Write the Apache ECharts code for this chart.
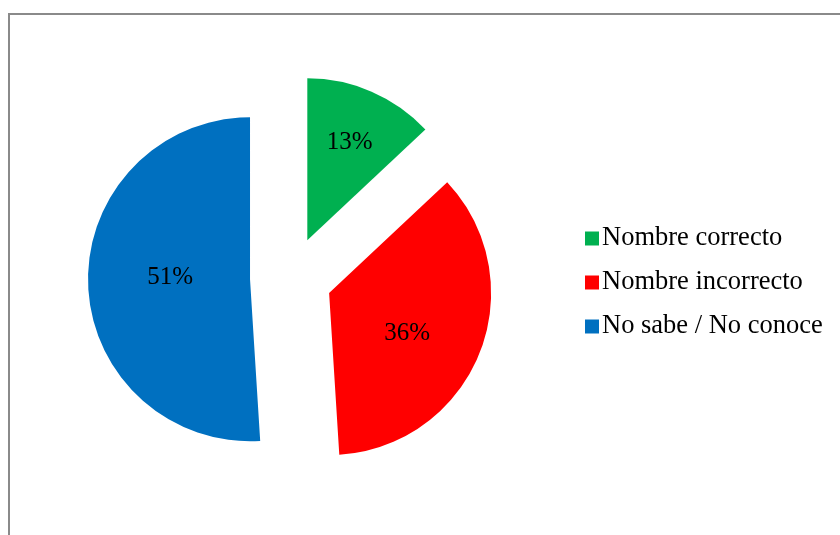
<!DOCTYPE html>
<html>
<head>
<meta charset="utf-8">
<script src="https://cdn.jsdelivr.net/npm/echarts@6/dist/echarts.min.js"></script>
<style>
  html, body { margin: 0; padding: 0; background: #ffffff; }
  #chart { width: 840px; height: 535px; }
</style>
</head>
<body>
<div id="chart"></div>
<script>
// Respuestas sobre el nombre (porcentajes)
const categories = ['Nombre correcto', 'Nombre incorrecto', 'No sabe / No conoce'];
const values = [13, 36, 51];
const colors = ['#00B050', '#FF0000', '#0070C0'];
// desplazamiento fino de cada etiqueta dentro de su porción
const labelShifts = [[9, -21], [0, 9], [4, -4]];

const chart = echarts.init(document.getElementById('chart'), null, { renderer: 'canvas' });

const data = categories.map((name, i) => ({
  name: name,
  value: values[i],
  selected: true,
  itemStyle: { color: colors[i] }
}));

chart.setOption({
  animation: false,
  backgroundColor: '#ffffff',
  graphic: [{
    type: 'rect',
    shape: { x: 9, y: 14, width: 900, height: 600 },
    style: { fill: 'none', stroke: '#8a8a8a', lineWidth: 2 },
    silent: true
  }],
  legend: {
    orient: 'vertical',
    left: 580,
    top: 220,
    itemWidth: 14,
    itemHeight: 14,
    itemGap: 17,
    icon: 'rect',
    selectedMode: false,
    textStyle: {
      fontFamily: 'Liberation Serif',
      fontSize: 26.5,
      color: '#000000',
      padding: [4, 0, 0, -2]
    },
    data: categories
  },
  series: [{
    type: 'pie',
    center: [291, 278],
    radius: [0, 162],
    startAngle: 90,
    clockwise: true,
    selectedMode: 'multiple',
    selectedOffset: 41,
    avoidLabelOverlap: false,
    label: {
      show: true,
      position: 'inside',
      formatter: '{d}%',
      fontFamily: 'Liberation Serif',
      fontSize: 25,
      color: '#000000'
    },
    labelLayout: function (params) {
      const s = labelShifts[params.dataIndex];
      return { dx: s[0], dy: s[1] };
    },
    labelLine: { show: false },
    emphasis: { disabled: true, scale: false },
    itemStyle: { borderWidth: 0 },
    data: data
  }]
});
</script>
</body>
</html>
